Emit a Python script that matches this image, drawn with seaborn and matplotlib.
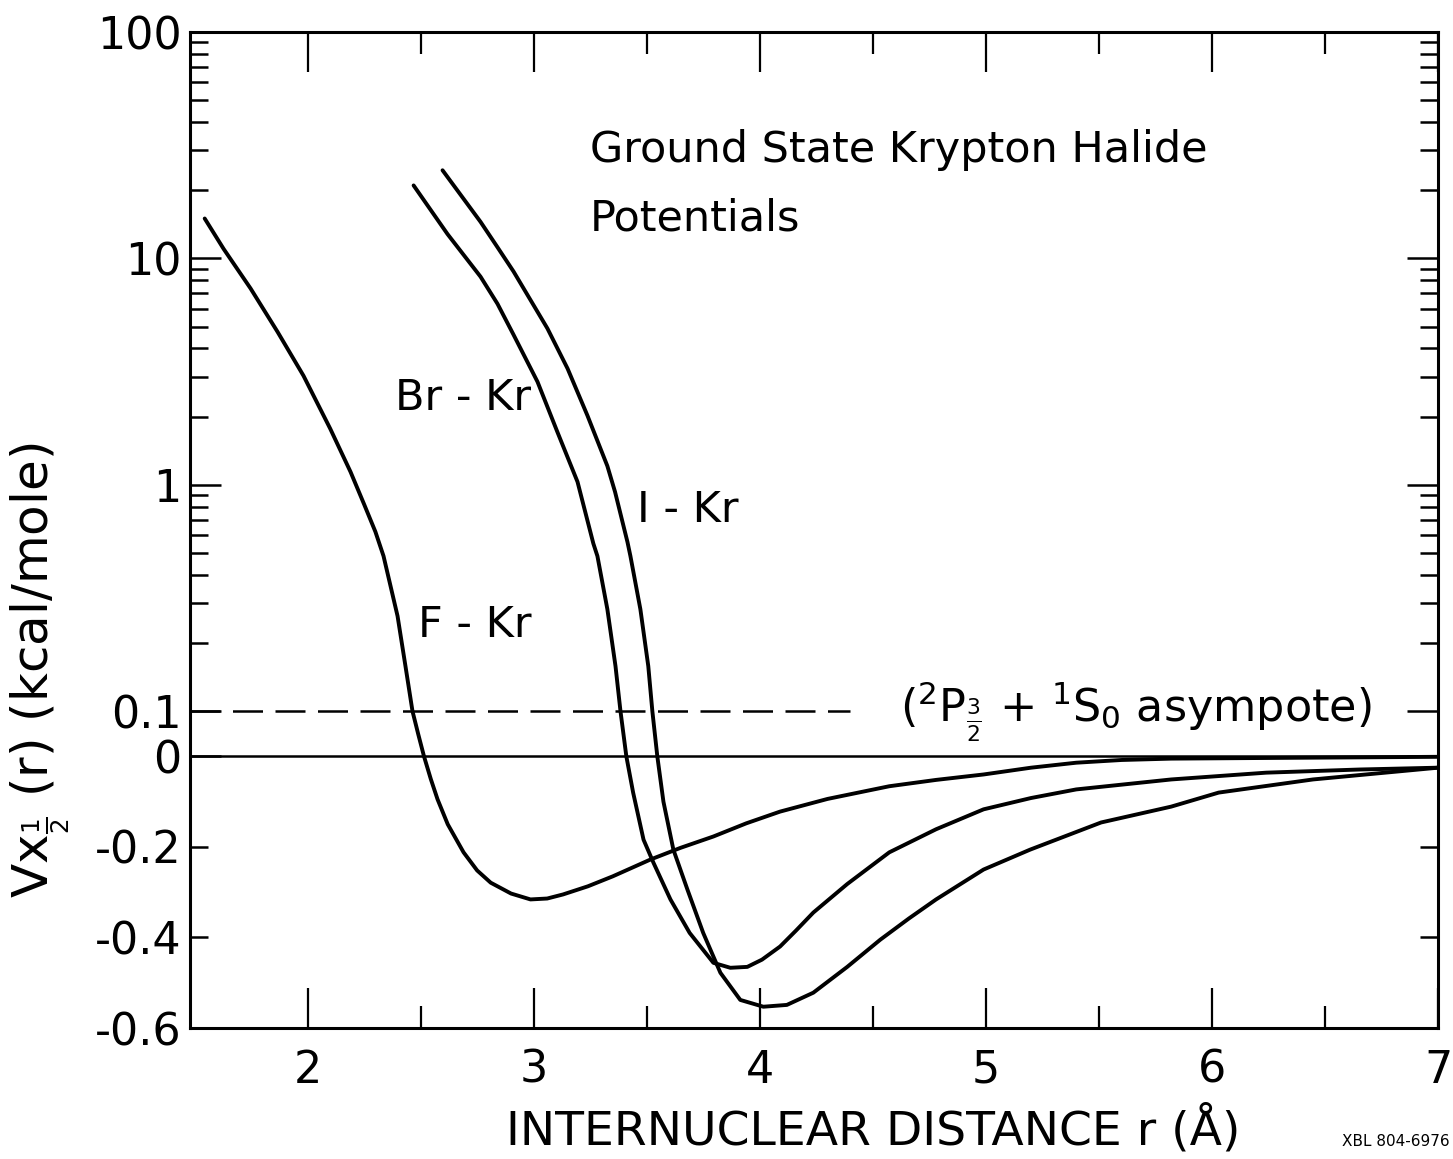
import numpy as np
import pandas as pd
import matplotlib
matplotlib.use("Agg")
import matplotlib.pyplot as plt
import seaborn as sns
from matplotlib.ticker import FixedLocator, FixedFormatter

# ---------------- data ----------------
fkr_r = [1.545, 1.629, 1.748, 1.867, 1.982, 2.10, 2.19, 2.25, 2.30, 2.336, 2.398, 2.433, 2.464,
         2.49, 2.515, 2.545, 2.575, 2.62, 2.69, 2.75, 2.81, 2.90, 2.986, 3.06, 3.13, 3.24, 3.35,
         3.516, 3.65, 3.795, 3.94, 4.09, 4.30, 4.573, 4.78, 4.99, 5.20, 5.40, 5.60, 5.82, 6.4, 7.0]
fkr_v = [15.0, 11.0, 7.36, 4.74, 3.03, 1.77, 1.14, 0.82, 0.62, 0.484, 0.263, 0.158, 0.10,
         0.048, 0.0, -0.05, -0.095, -0.15, -0.212, -0.252, -0.279, -0.303, -0.316, -0.314, -0.305,
         -0.287, -0.265, -0.228, -0.202, -0.177, -0.148, -0.122, -0.094, -0.066, -0.052, -0.040,
         -0.025, -0.014, -0.008, -0.005, -0.003, -0.001]

brkr_r = [2.469, 2.619, 2.765, 2.84, 2.911, 3.017, 3.105, 3.194, 3.264, 3.282, 3.326, 3.362, 3.384,
          3.41, 3.44, 3.486, 3.53, 3.605, 3.69, 3.795, 3.87, 3.945, 4.01, 4.09, 4.16, 4.237,
          4.387, 4.573, 4.78, 4.99, 5.20, 5.40, 5.82, 6.24, 6.655, 7.0]
brkr_v = [21.0, 12.8, 8.3, 6.3, 4.6, 2.85, 1.71, 1.03, 0.55, 0.484, 0.282, 0.158, 0.10,
          0.0, -0.08, -0.184, -0.235, -0.316, -0.39, -0.456, -0.467, -0.465, -0.449, -0.42,
          -0.385, -0.345, -0.282, -0.212, -0.161, -0.117, -0.092, -0.073, -0.051, -0.036,
          -0.029, -0.025]

ikr_r = [2.597, 2.765, 2.84, 2.911, 3.061, 3.15, 3.238, 3.326, 3.36, 3.415, 3.428, 3.472, 3.507,
         3.525, 3.547, 3.574, 3.618, 3.68, 3.75, 3.826, 3.914, 4.016, 4.12, 4.237, 4.387, 4.533,
         4.66, 4.78, 4.99, 5.196, 5.51, 5.82, 6.03, 6.447, 7.0]
ikr_v = [24.5, 14.5, 11.2, 8.75, 4.9, 3.26, 2.02, 1.21, 0.93, 0.558, 0.484, 0.282, 0.158,
         0.10, 0.0, -0.10, -0.206, -0.294, -0.39, -0.478, -0.538, -0.553, -0.549, -0.522, -0.465,
         -0.405, -0.358, -0.316, -0.25, -0.206, -0.146, -0.111, -0.08, -0.051, -0.025]

pairs = ["F-Kr", "Br-Kr", "I-Kr"]
asymptote = 0.1

x_major = [2, 3, 4, 5, 6, 7]
x_minor = [2.5, 3.5, 4.5, 5.5, 6.5]
y_major = [-0.6, 0, 0.1, 1, 10, 100]
y_major_labels = ["-0.6", "0", "0.1", "1", "10", "100"]
y_minor = [-0.4, -0.2] + [0.2, 0.3, 0.4, 0.5, 0.6, 0.7, 0.8, 0.9] + \
          [2, 3, 4, 5, 6, 7, 8, 9] + [20, 30, 40, 50, 60, 70, 80, 90]
y_minor_labels = ["-0.4", "-0.2"] + [""] * 24

# ---------------- figure ----------------
sns.set_style("ticks")
plt.rcParams["font.family"] = ["DejaVu Sans"]
for k in ["text.color", "axes.edgecolor", "xtick.color", "ytick.color", "axes.labelcolor"]:
    plt.rcParams[k] = "black"

W, H = 1453, 1159
fig = plt.figure(figsize=(W / 100, H / 100), dpi=100)
ax = fig.add_axes([190 / W, 1 - 1028 / H, (1438 - 190) / W, (1028 - 32) / H])

df = pd.concat([
    pd.DataFrame({"r": fkr_r, "V": fkr_v, "pair": "F-Kr"}),
    pd.DataFrame({"r": brkr_r, "V": brkr_v, "pair": "Br-Kr"}),
    pd.DataFrame({"r": ikr_r, "V": ikr_v, "pair": "I-Kr"}),
], ignore_index=True)

sns.lineplot(data=df, x="r", y="V", hue="pair", palette={p: "black" for p in pairs},
             sort=False, estimator=None, linewidth=2.8, legend=False, ax=ax)
for ln in ax.get_lines():
    ln.set_solid_joinstyle("round")


def fwd(y):
    y = np.asarray(y, dtype=float)
    return np.where(y <= 0.1, y, 0.1 + 0.5 * np.log10(np.maximum(y, 0.1) / 0.1))


def inv(t):
    t = np.asarray(t, dtype=float)
    return np.where(t <= 0.1, t, 0.1 * 10 ** ((np.minimum(t, 5.0) - 0.1) / 0.5))


ax.set_yscale("function", functions=(fwd, inv))
ax.set_xlim(1.48, 7.0)
ax.set_ylim(-0.6, 100)

# zero line and asymptote line
ax.axhline(0, color="black", lw=1.8, zorder=1)
ax.plot([1.48, 4.4], [asymptote, asymptote], color="black", lw=1.8,
        dashes=(12, 5), zorder=1)

# ticks
ax.xaxis.set_major_locator(FixedLocator(x_major))
ax.xaxis.set_minor_locator(FixedLocator(x_minor))
ax.xaxis.set_major_formatter(FixedFormatter([str(v) for v in x_major]))
ax.yaxis.set_major_locator(FixedLocator(y_major))
ax.yaxis.set_major_formatter(FixedFormatter(y_major_labels))
ax.yaxis.set_minor_locator(FixedLocator(y_minor))
ax.yaxis.set_minor_formatter(FixedFormatter(y_minor_labels))

ax.tick_params(axis="x", which="major", direction="in", length=29, width=1.6,
               top=True, bottom=True, labelsize=32, pad=15)
ax.tick_params(axis="x", which="minor", direction="in", length=16, width=1.6,
               top=True, bottom=True)
ax.tick_params(axis="y", which="major", direction="in", length=22, width=1.8,
               left=True, right=True, labelsize=32, pad=6)
ax.tick_params(axis="y", which="minor", direction="in", length=13, width=1.8,
               left=True, right=True, labelsize=32, pad=6)

for s in ax.spines.values():
    s.set_linewidth(2.2)
    s.set_visible(True)
    s.set_color("black")

ax.set_xlabel("")
ax.set_ylabel("")


def ftext(px, py, s, **kw):
    fig.text(px / W, 1 - py / H, s, **kw)


ftext(590, 150, "Ground State Krypton Halide", fontsize=31, va="center", ha="left")
ftext(590, 218, "Potentials", fontsize=31, va="center", ha="left")
ftext(395, 398, "Br - Kr", fontsize=31, va="center", ha="left")
ftext(637, 510, "I - Kr", fontsize=31, va="center", ha="left")
ftext(418, 625, "F - Kr", fontsize=31, va="center", ha="left")
ftext(900, 712, r"($^2$P$_{\frac{3}{2}}$ + $^1$S$_0$ asympote)", fontsize=32,
      va="center", ha="left")
ftext(873, 1130, "INTERNUCLEAR DISTANCE r (Å)", fontsize=34, va="center", ha="center")
ftext(40, 670, r"Vx$_{\frac{1}{2}}$ (r) (kcal/mole)", fontsize=36, va="center", ha="center",
      rotation=90)
ftext(1450, 1142, "XBL 804-6976", fontsize=11, va="center", ha="right")

fig.savefig("out.png", dpi=100)
